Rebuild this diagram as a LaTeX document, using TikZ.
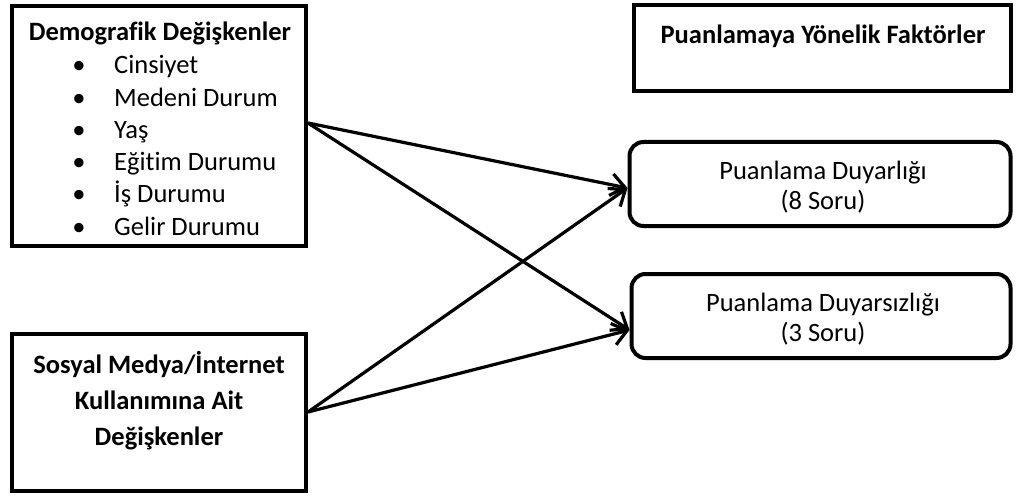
\documentclass[tikz,border=0pt]{standalone}
\usepackage{fontspec}
\setmainfont[Ligatures=NoCommon]{Carlito}
\usetikzlibrary{arrows.meta,calc}
\begin{document}
\begin{tikzpicture}[x=1pt,y=-1pt,
  sqbox/.style={draw=black,line width=4pt,rectangle,inner sep=0pt},
  rbox/.style={draw=black,line width=4pt,rectangle,rounded corners=14pt,inner sep=0pt},
  ttl/.style={font=\fontsize{26.5}{30}\selectfont\bfseries,inner sep=0pt},
  itm/.style={font=\fontsize{26.5}{30}\selectfont,inner sep=0pt,anchor=base west},
  bul/.style={font=\fontsize{26.5}{30}\selectfont,inner sep=0pt,anchor=base},
  lbl/.style={font=\fontsize{26.5}{30}\selectfont,inner sep=0pt,align=center},
  conn/.style={line width=3.2pt,-{Straight Barb[length=14pt,width=22pt,line width=3.2pt]}}
]
\useasboundingbox (0,0) rectangle (1016,497);
\fill[white] (0,0) rectangle (1016,497);
% boxes
\node[sqbox,minimum width=294pt,minimum height=240pt] (demo) at (159,126) {};
\node[sqbox,minimum width=294pt,minimum height=157pt] (soc) at (159,412) {};
\node[sqbox,minimum width=377pt,minimum height=86pt] (fak) at (822,48) {};
\node[rbox,minimum width=381pt,minimum height=84pt] (duy) at (820,184) {};
\node[rbox,minimum width=379pt,minimum height=84pt] (duys) at (821,316) {};
% texts of box 1
\node[ttl] (demot) at (160,33) {Demografik Değişkenler};
\foreach \i/\t in {0/Cinsiyet,1/Medeni Durum,2/Yaş,3/Eğitim Durumu,4/İş Durumu,5/Gelir Durumu}{
  \node[bul] (b\i) at (79,{74+32.2*\i}) {•};
  \node[itm] (t\i) at (114,{74+32.2*\i}) {\t};
}
% texts of other boxes
\node[ttl,align=center,font=\fontsize{26.5}{36}\selectfont\bfseries] (soct) at (159,401) {Sosyal Medya/İnternet\\Kullanımına Ait\\Değişkenler};
\node[ttl] (fakt) at (823,36) {Puanlamaya Yönelik Faktörler};
\node[lbl] (duyt) at (823,187) {Puanlama Duyarlığı\\(8 Soru)};
\node[lbl] (duyst) at (823,319) {Puanlama Duyarsızlığı\\(3 Soru)};
% connectors
\draw[conn] ([yshift=3pt]demo.east) -- ([yshift=-4pt]duy.west);
\draw[conn] ([yshift=3pt]demo.east) -- ([yshift=-14pt]duys.west);
\draw[conn] (soc.east) -- ([yshift=-4pt]duy.west);
\draw[conn] (soc.east) -- ([yshift=-14pt]duys.west);
\end{tikzpicture}
\end{document}
